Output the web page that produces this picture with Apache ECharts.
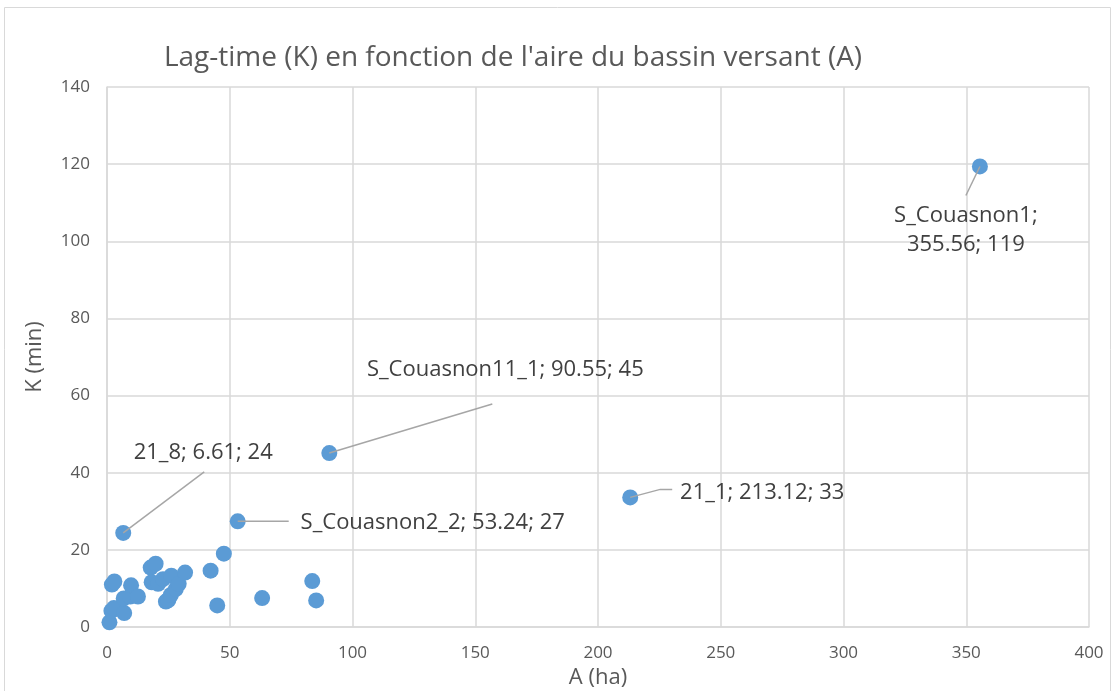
<!DOCTYPE html>
<html>
<head>
<meta charset="utf-8">
<script src="https://cdn.jsdelivr.net/npm/echarts@6/dist/echarts.min.js"></script>
<style>
    html, body { margin: 0; padding: 0; background: #fff; }
    #chart { width: 1116px; height: 691px; }
</style>
</head>
<body>
<div id="chart"></div>
<script>
// unlabelled catchments: area A (ha) and lag-time K (min)
const areaA = [1.0, 1.8, 2.8, 2.0, 3.0, 7.0, 6.8, 9.5, 9.8, 12.6, 17.8, 19.8, 18.2, 20.8,
    22.8, 26.2, 24.0, 25.0, 26.0, 28.0, 29.2, 31.8, 42.2, 47.6, 44.9, 63.2, 83.6, 85.2];
const lagK = [1.2, 4.2, 4.9, 11.0, 11.8, 3.6, 7.4, 7.9, 10.8, 7.9, 15.4, 16.4, 11.6, 11.2,
    12.4, 13.3, 6.6, 7.0, 8.3, 9.8, 11.2, 14.1, 14.6, 19.0, 5.6, 7.5, 11.9, 6.9];

// labelled catchments
const labelNames = ["21_8", "S_Couasnon11_1", "S_Couasnon2_2", "21_1", "S_Couasnon1"];
const labelA = [6.61, 90.55, 53.24, 213.12, 355.56];
const labelK = [24.4, 45.1, 27.4, 33.6, 119.4];
const labelText = ["21_8; 6.61; 24", "S_Couasnon11_1; 90.55; 45", "S_Couasnon2_2; 53.24; 27",
    "21_1; 213.12; 33", "S_Couasnon1;\n355.56; 119"];

const xTicks = { min: 0, max: 400, step: 50 };
const yTicks = { min: 0, max: 140, step: 20 };

const grey = "#595959";
const gridColor = "#d9d9d9";
const dotColor = "#5b9bd5";

// label centre offset from its point (px), and leader line bends (px from the point)
const labelPlace = [
    { dx: 80, dy: -80, leader: [[81, -61]] },
    { dx: 176, dy: -83, leader: [[163, -49]] },
    { dx: 195, dy: 1, leader: [[51, 0]] },
    { dx: 132, dy: -5, leader: [[30, -8], [42, -8]] },
    { dx: -14, dy: 64, leader: [[-14, 29]] },
];

const chart = echarts.init(document.getElementById("chart"));

const frame = {
    type: "rect",
    shape: { x: 4.5, y: 7.5, width: 1106, height: 700 },
    style: { fill: "none", stroke: "#d9d9d9", lineWidth: 1 },
    silent: true,
};

const option = {
    animation: false,
    title: {
        text: "Lag-time (K) en fonction de l'aire du bassin versant (A)",
        left: 508,
        textAlign: "center",
        top: 39,
        textStyle: {
            color: grey,
            fontFamily: "Open Sans",
            fontWeight: "normal",
            fontSize: 28,
        }
    },
    graphic: [frame],
    grid: {
        left: 107,
        right: 27,
        top: 87,
        bottom: 64,
        outerBoundsMode: "none",
        containLabel: false,
    },
    xAxis: {
        type: "value",
        min: xTicks.min,
        max: xTicks.max,
        interval: xTicks.step,
        name: "A (ha)",
        nameLocation: "middle",
        nameGap: 38,
        nameTextStyle: { color: grey, fontFamily: "Open Sans", fontSize: 22 },
        axisLine: { show: true, lineStyle: { color: gridColor, width: 1.5 } },
        axisTick: { show: false },
        axisLabel: { color: grey, fontFamily: "Open Sans", fontSize: 17, margin: 18 },
        splitLine: { show: true, lineStyle: { color: gridColor, width: 1.5 } },
    },
    yAxis: {
        type: "value",
        min: yTicks.min,
        max: yTicks.max,
        interval: yTicks.step,
        name: "K (min)",
        nameLocation: "middle",
        nameGap: 61,
        nameTextStyle: { color: grey, fontFamily: "Open Sans", fontSize: 22 },
        axisLine: { show: true, lineStyle: { color: gridColor, width: 1.5 } },
        axisTick: { show: false },
        axisLabel: { color: grey, fontFamily: "Open Sans", fontSize: 17, margin: 17 },
        splitLine: { show: true, lineStyle: { color: gridColor, width: 1.5 } },
    },
    series: [
        {
            name: "bassins",
            type: "scatter",
            symbolSize: 16,
            itemStyle: { color: dotColor, opacity: 1 },
            data: areaA.map((a, i) => [a, lagK[i]]),
        },
        {
            name: "bassins nommés",
            type: "scatter",
            symbolSize: 16,
            itemStyle: { color: dotColor, opacity: 1 },
            data: labelA.map((a, i) => ({ name: labelNames[i], value: [a, labelK[i]] })),
            label: {
                show: true,
                position: "inside",
                formatter: p => labelText[p.dataIndex],
                color: "#404040",
                fontFamily: "Open Sans",
                fontSize: 22,
                lineHeight: 29,
                align: "center",
            },
            labelLayout: params => ({
                dx: labelPlace[params.dataIndex].dx,
                dy: labelPlace[params.dataIndex].dy,
            }),
        }
    ],
};

chart.setOption(option);

// leader lines from each labelled point towards its label
const leaders = labelA.map((a, i) => {
    const p = chart.convertToPixel({ seriesIndex: 1 }, [a, labelK[i]]);
    const pts = [p].concat(labelPlace[i].leader.map(d => [p[0] + d[0], p[1] + d[1]]));
    return {
        type: "polyline",
        shape: { points: pts },
        style: { stroke: "#a6a6a6", lineWidth: 1.5, fill: null },
        z: 100,
        silent: true,
    };
});
chart.setOption({ graphic: [frame].concat(leaders) });
</script>
</body>
</html>
